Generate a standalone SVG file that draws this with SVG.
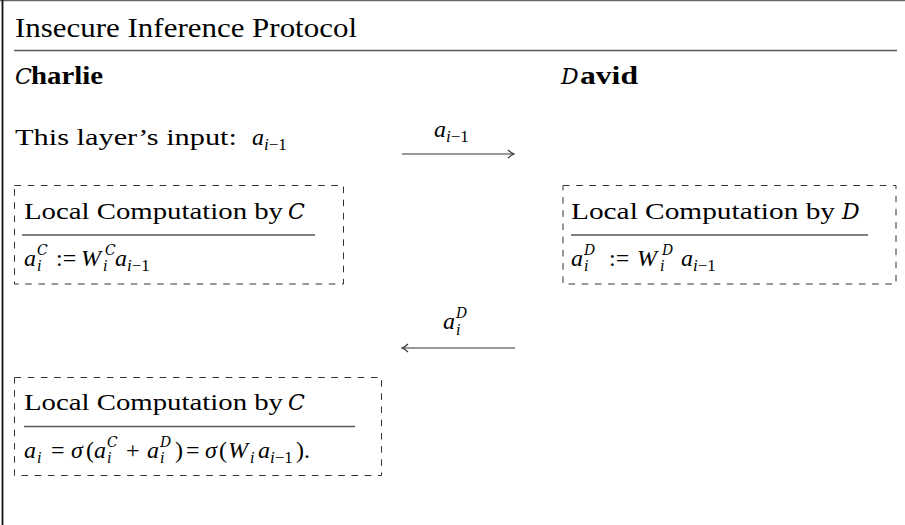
<svg xmlns="http://www.w3.org/2000/svg" width="905" height="525" viewBox="0 0 905 525">
<defs>
<style>
text{font-family:"Liberation Serif","Times New Roman",serif;fill:#000}
.t{font-size:24px}
.h{font-size:28px}
.b{font-size:25px;font-weight:bold}
.m{font-size:24px;font-style:italic}
.r{font-size:24px}
.s{font-size:16px;font-style:italic}
.sr{font-size:17px}
.cal{font-size:22px;font-style:italic;font-family:"DejaVu Serif","Liberation Serif",serif}
.cals{font-size:14px;font-style:italic;font-family:"DejaVu Serif","Liberation Serif",serif}
.box{fill:none;stroke:#333;stroke-width:1;stroke-dasharray:6.6 6.6}
.rule{stroke:#555;stroke-width:1.3}
.arr{stroke:#333;stroke-width:1.2;fill:none}
</style>
<marker id="ah" viewBox="0 0 8 10" refX="7" refY="5" markerWidth="8" markerHeight="10" markerUnits="userSpaceOnUse" orient="auto">
<path d="M1,1 Q4,4 7,5 Q4,6 1,9" fill="none" stroke="#333" stroke-width="1.1"/>
</marker>
</defs>

<g id="frame">
<line x1="0" y1="0.6" x2="905" y2="0.6" stroke="#666" stroke-width="1.2"/>
<line x1="2.5" y1="0" x2="2.5" y2="525" stroke="#111" stroke-width="1.8"/>
</g>

<g id="title">
<text class="h" x="15" y="37" textLength="342" lengthAdjust="spacingAndGlyphs">Insecure Inference Protocol</text>
<line class="rule" x1="14" y1="50.5" x2="897" y2="50.5"/>
</g>

<g id="charlie">
<text class="cal" x="15" y="84">C</text>
<text class="b" x="31" y="84" textLength="72" lengthAdjust="spacingAndGlyphs">harlie</text>
<text class="t" x="15" y="145" textLength="222" lengthAdjust="spacingAndGlyphs">This layer’s input:</text>
<text class="m" x="252" y="145">a</text>
<text class="sr" x="264" y="150"><tspan font-style="italic">i</tspan>−1</text>
</g>

<g id="david">
<text class="cal" x="561" y="84">D</text>
<text class="b" x="580" y="84" textLength="58" lengthAdjust="spacingAndGlyphs">avid</text>
</g>

<g id="localC1">
<rect class="box" x="14.5" y="185.5" width="329" height="98.5"/>
<text class="t" x="24" y="219" textLength="259" lengthAdjust="spacingAndGlyphs">Local Computation by</text>
<text class="cal" x="288" y="219">C</text>
<line class="rule" x1="22" y1="235" x2="315" y2="235"/>
<text class="m" x="24" y="266">a</text>
<text class="cals" x="37" y="255">C</text>
<text class="s" x="37" y="271">i</text>
<text class="r" x="56" y="266">:=</text>
<text class="m" x="81" y="266">W</text>
<text class="cals" x="105" y="255">C</text>
<text class="s" x="103" y="271">i</text>
<text class="m" x="115" y="266">a</text>
<text class="sr" x="127" y="271"><tspan font-style="italic">i</tspan>−1</text>
</g>

<g id="localD">
<rect class="box" x="563" y="185.5" width="333" height="98.5"/>
<text class="t" x="571" y="219" textLength="264" lengthAdjust="spacingAndGlyphs">Local Computation by</text>
<text class="cal" x="842" y="219">D</text>
<line class="rule" x1="571" y1="235" x2="868" y2="235"/>
<text class="m" x="571" y="266">a</text>
<text class="cals" x="584" y="255">D</text>
<text class="s" x="584" y="271">i</text>
<text class="r" x="609" y="266">:=</text>
<text class="m" x="637" y="266">W</text>
<text class="cals" x="662" y="255">D</text>
<text class="s" x="660" y="271">i</text>
<text class="m" x="681" y="266">a</text>
<text class="sr" x="693" y="271"><tspan font-style="italic">i</tspan>−1</text>
</g>

<g id="localC2">
<rect class="box" x="14.5" y="377.5" width="367" height="98"/>
<text class="t" x="24" y="410" textLength="259" lengthAdjust="spacingAndGlyphs">Local Computation by</text>
<text class="cal" x="288" y="410">C</text>
<line class="rule" x1="24" y1="426.5" x2="355" y2="426.5"/>
<text class="m" x="24" y="458">a</text>
<text class="s" x="37" y="463">i</text>
<text class="r" x="51" y="458">=</text>
<text class="m" x="71" y="458">σ</text>
<text class="r" x="86" y="458">(</text>
<text class="m" x="94" y="458">a</text>
<text class="cals" x="107" y="447">C</text>
<text class="s" x="107" y="463">i</text>
<text class="r" x="126" y="458">+</text>
<text class="m" x="147" y="458">a</text>
<text class="cals" x="160" y="447">D</text>
<text class="s" x="160" y="463">i</text>
<text class="r" x="175" y="458">)</text>
<text class="r" x="186" y="458">=</text>
<text class="m" x="205" y="458">σ</text>
<text class="r" x="219" y="458">(</text>
<text class="m" x="228" y="458">W</text>
<text class="s" x="250" y="463">i</text>
<text class="m" x="258" y="458">a</text>
<text class="sr" x="270" y="463"><tspan font-style="italic">i</tspan>−1</text>
<text class="r" x="296" y="458">).</text>
</g>

<g id="connectors">
<line class="arr" x1="402" y1="154" x2="514" y2="154" marker-end="url(#ah)"/>
<text class="m" x="434" y="137">a</text>
<text class="sr" x="446" y="142"><tspan font-style="italic">i</tspan>−1</text>
<line class="arr" x1="515" y1="348" x2="402" y2="348" marker-end="url(#ah)"/>
<text class="m" x="443" y="329">a</text>
<text class="cals" x="456" y="318">D</text>
<text class="s" x="456" y="335">i</text>
</g>
</svg>
